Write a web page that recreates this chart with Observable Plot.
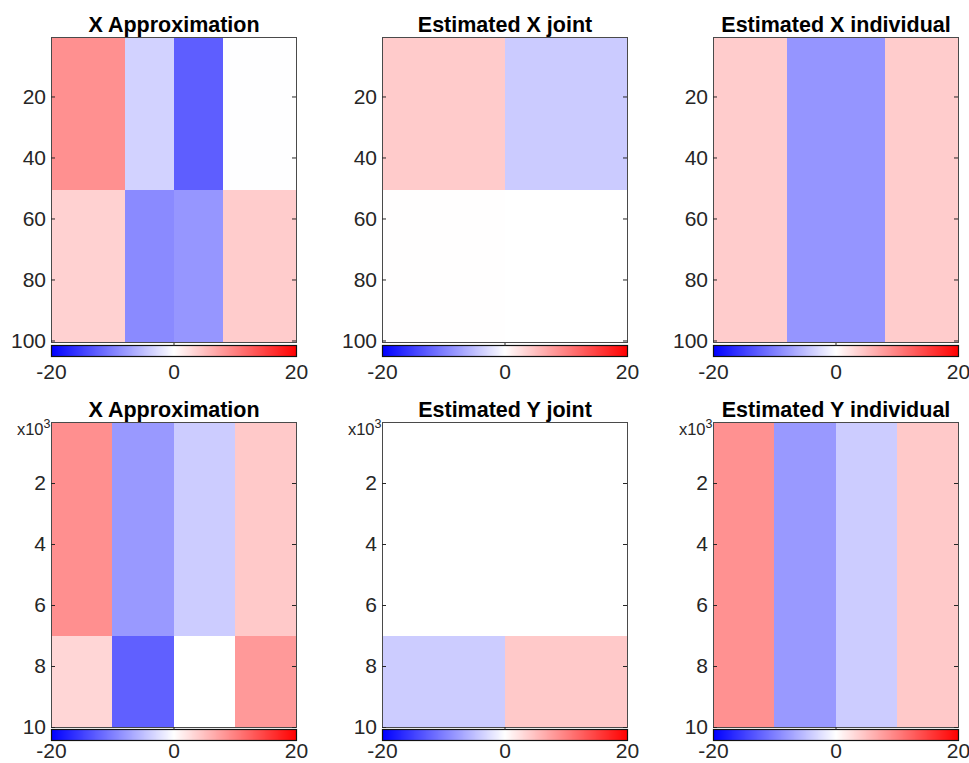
<!DOCTYPE html>
<html>
<head>
<meta charset="utf-8">
<script src="https://cdn.jsdelivr.net/npm/d3@7"></script>
<script src="https://cdn.jsdelivr.net/npm/@observablehq/plot@0.6"></script>
<style>
  html, body { margin: 0; padding: 0; background: #fff; }
  #root { position: relative; width: 969px; height: 763px; overflow: hidden; background: #fff; }
  #root svg { position: absolute; overflow: visible; }
</style>
</head>
<body>
<div id="root"></div>
<script>
// ---------- data (block values) ----------
const xRowEdges = [0.5, 50.5, 100.5];          // X: 100 rows, two row groups
const xColEdges = [0, 3, 5, 7, 10];            // X: column groups 30% / 20% / 20% / 30%
const xApprox   = [[8.7, -3.5, -12.6, -0.1], [3.6, -9.2, -8.2, 4.0]];
const xJoint    = [[4.1, 4.1, -4.1, -4.1], [0.1, 0.1, 0, 0]];
const xIndiv    = [[4.0, -8.3, -8.3, 4.0], [4.0, -8.3, -8.3, 4.0]];

const yRowEdges = [0, 7000, 10000];            // Y: 10 000 rows, two row groups
const yColEdges = [0, 1, 2, 3, 4];             // Y: four equal column groups
const yApprox   = [[8.8, -8.0, -4.0, 4.2], [3.2, -12.5, 0, 8.0]];
const yJoint    = [[0, 0, 0, 0], [-4.0, -4.0, 4.2, 4.2]];
const yIndiv    = [[8.6, -8.0, -4.0, 4.2], [8.6, -8.0, -4.0, 4.2]];

const titles = ["X Approximation", "Estimated X joint", "Estimated X individual",
                "X Approximation", "Estimated Y joint", "Estimated Y individual"];
const xTicks = [20, 40, 60, 80, 100];
const yTicks = [2000, 4000, 6000, 8000, 10000];
const cbTicks = [-20, 0, 20];
const cbDomain = [-20, 0, 20];
const cbColors = ["#0000ff", "#ffffff", "#ff0000"];

// ---------- helpers ----------
const FONT = "'Liberation Sans', Arial, Helvetica, sans-serif";
const colorSpec = {type: "linear", domain: cbDomain, range: cbColors, interpolate: "rgb", clamp: true};
const PW = 245; // plot area width

function blocks(rowEdges, colEdges, values) {
  const out = [];
  values.forEach((row, i) => row.forEach((v, j) => out.push({
    x1: colEdges[j], x2: colEdges[j + 1], y1: rowEdges[i], y2: rowEdges[i + 1], v
  })));
  return out;
}

function heatmap({title, rowEdges, colEdges, values, ticks, fmt, exp}) {
  const marks = [
    Plot.rect(blocks(rowEdges, colEdges, values), {x1: "x1", x2: "x2", y1: "y1", y2: "y2", fill: "v", shapeRendering: "crispEdges"}),
    Plot.frame({stroke: "#4a4a4a", strokeWidth: 1}),
    Plot.tickY(ticks, {y: d => d, insetRight: PW - 4, stroke: "#262626"}),
    Plot.tickY(ticks, {y: d => d, insetLeft: PW - 4, stroke: "#262626"}),
    Plot.axisY(ticks, {anchor: "left", tickSize: 0, tickPadding: 5.5, tickFormat: fmt, label: null, fontSize: 21, fill: "#262626"}),
    Plot.text([title], {frameAnchor: "top", dy: -6, lineAnchor: "bottom", fontSize: 21.5, fontWeight: "bold", fill: "#000"})
  ];
  if (exp) {
    marks.push(Plot.text(["x10"], {frameAnchor: "top-left", dx: -8, dy: 12.5, lineAnchor: "bottom", textAnchor: "end", fontSize: 16.5, fill: "#262626"}));
    marks.push(Plot.text(["3"], {frameAnchor: "top-left", dx: -8, dy: 5, lineAnchor: "bottom", textAnchor: "start", fontSize: 12.5, fill: "#262626"}));
  }
  return Plot.plot({
    width: 310, height: 345, marginLeft: 51, marginRight: 14, marginTop: 37, marginBottom: 3,
    style: {fontFamily: FONT, fontSize: "21px", color: "#262626", background: "transparent", overflow: "visible"},
    x: {domain: [colEdges[0], colEdges[colEdges.length - 1]], axis: null},
    y: {domain: [rowEdges[0], rowEdges[rowEdges.length - 1]], reverse: true, label: null},
    color: colorSpec,
    marks
  });
}

function colorbar(mTop, pad) {
  return Plot.plot({
    width: 310, height: 40, marginLeft: 51, marginRight: 14, marginTop: mTop, marginBottom: 40 - mTop - 11,
    style: {fontFamily: FONT, fontSize: "21px", color: "#262626", background: "transparent", overflow: "visible"},
    x: {domain: [-20, 20], label: null},
    y: {domain: [0, 1], axis: null},
    color: colorSpec,
    marks: [
      Plot.raster({fill: (x, y) => x, x1: -20, x2: 20, y1: 0, y2: 1, pixelSize: 1, imageRendering: "auto"}),
      Plot.frame({stroke: "#111", strokeWidth: 1.2}),
      Plot.axisX(cbTicks, {anchor: "bottom", tickSize: 0, tickPadding: pad, tickFormat: d => String(d), label: null, fontSize: 21, fill: "#262626"}),
      Plot.axisX([0], {anchor: "top", tickSize: 3, tickFormat: () => "", label: null, stroke: "#262626"})
    ]
  });
}

// ---------- layout ----------
const root = document.getElementById("root");
const colLefts = [0, 331, 662];
const rowTops = [0, 385];
const panels = [
  {title: titles[0], rowEdges: xRowEdges, colEdges: xColEdges, values: xApprox, ticks: xTicks, fmt: d => String(d)},
  {title: titles[1], rowEdges: xRowEdges, colEdges: xColEdges, values: xJoint,  ticks: xTicks, fmt: d => String(d)},
  {title: titles[2], rowEdges: xRowEdges, colEdges: xColEdges, values: xIndiv,  ticks: xTicks, fmt: d => String(d)},
  {title: titles[3], rowEdges: yRowEdges, colEdges: yColEdges, values: yApprox, ticks: yTicks, fmt: d => String(d / 1000), exp: true},
  {title: titles[4], rowEdges: yRowEdges, colEdges: yColEdges, values: yJoint,  ticks: yTicks, fmt: d => String(d / 1000), exp: true},
  {title: titles[5], rowEdges: yRowEdges, colEdges: yColEdges, values: yIndiv,  ticks: yTicks, fmt: d => String(d / 1000), exp: true}
];
panels.forEach((p, i) => {
  const r = Math.floor(i / 3), c = i % 3;
  const hm = heatmap(p);
  hm.style.left = colLefts[c] + "px";
  hm.style.top = rowTops[r] + "px";
  root.appendChild(hm);
  const cb = r === 0 ? colorbar(3, 8) : colorbar(2, 3);
  cb.style.left = colLefts[c] + "px";
  cb.style.top = (rowTops[r] + 342) + "px";
  root.appendChild(cb);
});
</script>
</body>
</html>
